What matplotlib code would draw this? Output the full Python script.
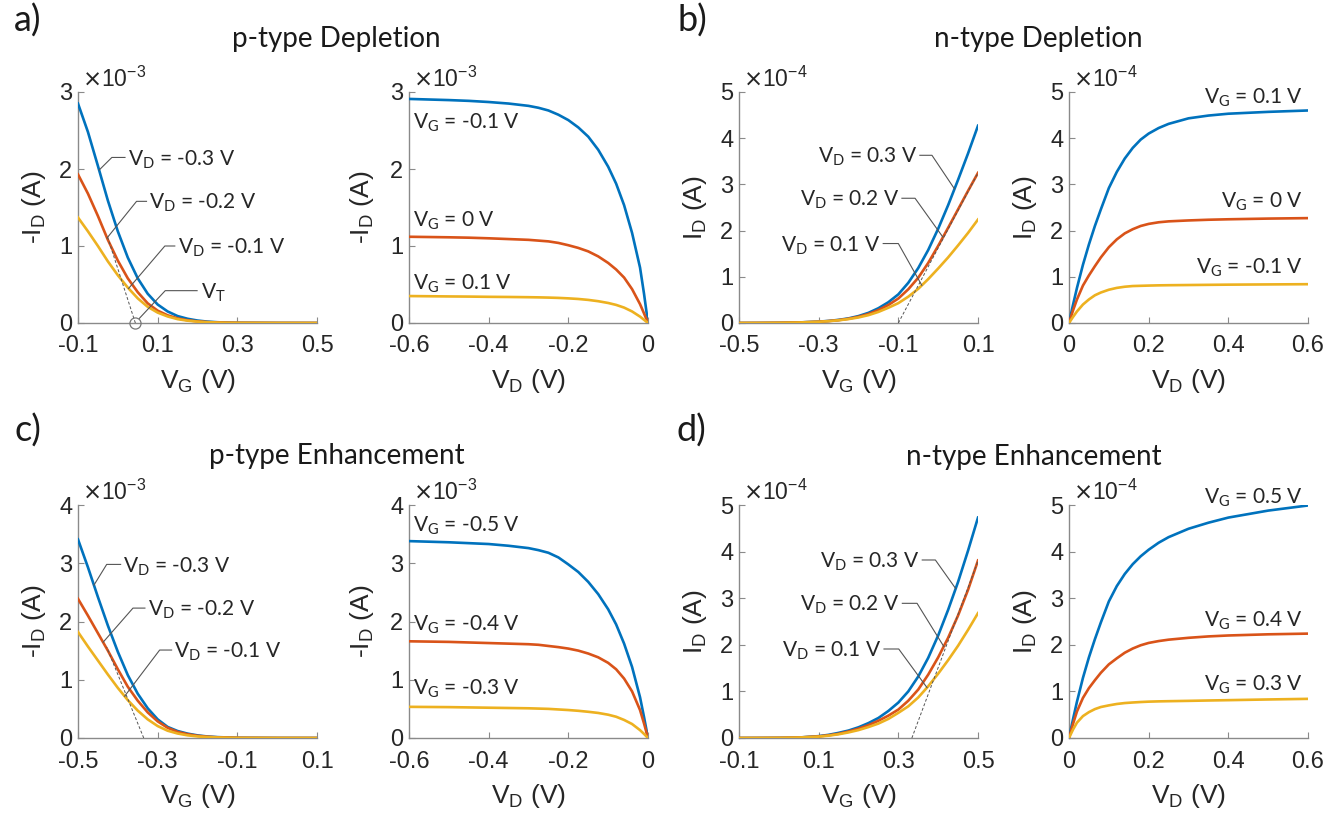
import numpy as np
import matplotlib
matplotlib.use("Agg")
import matplotlib.pyplot as plt

plt.rcParams['axes.unicode_minus'] = False
plt.rcParams['font.family'] = ['Liberation Sans', 'DejaVu Sans']

BLUE, RED, YEL = '#0072BD', '#D95319', '#EDB120'
GREY = '#8a8a8a'
LEAD = '#555555'
ANNOT_FONT = ['Lato', 'DejaVu Sans']
ANNOT_SIZE = 15
ANNOT_DY = -5.4

# ---------------- data (currents in units of the axis multiplier) ----------------
# a) p-type depletion, transfer (-I_D, x1e-3 A)
a_vg = [-0.1, -0.075, -0.05, -0.025, 0.0, 0.025, 0.05, 0.075, 0.1, 0.125, 0.15, 0.175, 0.2, 0.225,
        0.25, 0.275, 0.3, 0.4, 0.5]
a_tr_vd3 = [2.85, 2.48, 2.04, 1.59, 1.19, 0.85, 0.58, 0.38, 0.24, 0.15, 0.09, 0.055, 0.032, 0.018,
            0.01, 0.005, 0.003, 0.0005, 0.0]
a_tr_vd2 = [1.93, 1.68, 1.39, 1.08, 0.81, 0.58, 0.40, 0.255, 0.16, 0.10, 0.06, 0.036, 0.021, 0.012,
            0.007, 0.004, 0.002, 0.0003, 0.0]
a_tr_vd1 = [1.37, 1.19, 1.00, 0.80, 0.62, 0.46, 0.32, 0.21, 0.135, 0.085, 0.05, 0.03, 0.018, 0.01,
            0.006, 0.003, 0.002, 0.0003, 0.0]
# a) output
a_vd = [-0.6, -0.5, -0.45, -0.4, -0.35, -0.3, -0.275, -0.25, -0.225, -0.2, -0.175, -0.15, -0.125,
        -0.1, -0.08, -0.06, -0.04, -0.02, -0.01, 0.0]
a_out_vg1 = [2.91, 2.895, 2.885, 2.87, 2.85, 2.82, 2.795, 2.76, 2.705, 2.635, 2.54, 2.42, 2.25,
             2.03, 1.81, 1.53, 1.17, 0.72, 0.38, 0.0]
a_out_vg2 = [1.12, 1.113, 1.108, 1.10, 1.09, 1.08, 1.07, 1.06, 1.04, 1.01, 0.975, 0.93, 0.865,
             0.78, 0.695, 0.59, 0.44, 0.245, 0.125, 0.0]
a_out_vg3 = [0.35, 0.345, 0.343, 0.34, 0.338, 0.335, 0.333, 0.33, 0.326, 0.32, 0.312, 0.30, 0.283,
             0.26, 0.235, 0.20, 0.15, 0.083, 0.042, 0.0]

# b) n-type depletion, transfer (I_D, x1e-4 A)
b_vg = [-0.5, -0.45, -0.4, -0.35, -0.3, -0.275, -0.25, -0.225, -0.2, -0.175, -0.15, -0.125, -0.1,
        -0.075, -0.05, -0.025, 0.0, 0.025, 0.05, 0.075, 0.1]
b_tr_vd3 = [0.0, 0.001, 0.004, 0.012, 0.03, 0.045, 0.068, 0.10, 0.15, 0.22, 0.32, 0.45, 0.62,
            0.87, 1.19, 1.58, 2.04, 2.55, 3.10, 3.67, 4.27]
b_tr_vd2 = [0.0, 0.001, 0.004, 0.011, 0.028, 0.042, 0.062, 0.092, 0.135, 0.195, 0.28, 0.39, 0.53,
            0.73, 0.98, 1.30, 1.67, 2.06, 2.46, 2.86, 3.25]
b_tr_vd1 = [0.0, 0.001, 0.004, 0.011, 0.027, 0.04, 0.058, 0.085, 0.12, 0.17, 0.24, 0.33, 0.43,
            0.57, 0.74, 0.95, 1.18, 1.42, 1.68, 1.95, 2.24]
# b) output
b_vd = [0.0, 0.01, 0.02, 0.035, 0.05, 0.065, 0.08, 0.1, 0.12, 0.14, 0.16, 0.18, 0.2, 0.225, 0.25,
        0.3, 0.35, 0.4, 0.5, 0.6]
b_out_vg1 = [0.0, 0.39, 0.76, 1.26, 1.70, 2.10, 2.46, 2.92, 3.27, 3.56, 3.79, 3.97, 4.10, 4.22,
             4.31, 4.43, 4.49, 4.53, 4.57, 4.60]
b_out_vg2 = [0.0, 0.27, 0.51, 0.81, 1.03, 1.23, 1.42, 1.64, 1.81, 1.94, 2.03, 2.10, 2.145, 2.18,
             2.20, 2.22, 2.235, 2.245, 2.26, 2.27]
b_out_vg3 = [0.0, 0.13, 0.25, 0.40, 0.51, 0.60, 0.66, 0.72, 0.76, 0.785, 0.80, 0.805, 0.81, 0.815,
             0.818, 0.822, 0.826, 0.83, 0.835, 0.84]

# c) p-type enhancement, transfer (-I_D, x1e-3 A)
c_vg = [-0.5, -0.475, -0.45, -0.425, -0.4, -0.375, -0.35, -0.325, -0.3, -0.275, -0.25, -0.225,
        -0.2, -0.175, -0.15, -0.1, 0.0, 0.1]
c_tr_vd3 = [3.41, 2.93, 2.42, 1.93, 1.48, 1.08, 0.76, 0.51, 0.32, 0.19, 0.12, 0.075, 0.045, 0.026,
            0.015, 0.004, 0.0005, 0.0]
c_tr_vd2 = [2.39, 2.10, 1.80, 1.50, 1.18, 0.88, 0.64, 0.44, 0.285, 0.175, 0.105, 0.065, 0.038,
            0.022, 0.012, 0.003, 0.0004, 0.0]
c_tr_vd1 = [1.82, 1.57, 1.33, 1.09, 0.86, 0.65, 0.47, 0.32, 0.205, 0.125, 0.077, 0.046, 0.027,
            0.016, 0.009, 0.002, 0.0003, 0.0]
# c) output
c_vd = [-0.6, -0.5, -0.45, -0.4, -0.35, -0.3, -0.275, -0.25, -0.225, -0.2, -0.175, -0.15, -0.125,
        -0.1, -0.08, -0.06, -0.04, -0.02, -0.01, 0.0]
c_out_vg1 = [3.38, 3.36, 3.345, 3.33, 3.30, 3.26, 3.225, 3.18, 3.10, 2.98, 2.85, 2.68, 2.47,
             2.21, 1.95, 1.62, 1.22, 0.70, 0.36, 0.0]
c_out_vg2 = [1.66, 1.65, 1.64, 1.63, 1.62, 1.61, 1.60, 1.58, 1.56, 1.535, 1.50, 1.45, 1.385,
             1.29, 1.18, 1.02, 0.80, 0.48, 0.25, 0.0]
c_out_vg3 = [0.535, 0.53, 0.525, 0.52, 0.515, 0.51, 0.505, 0.50, 0.49, 0.48, 0.467, 0.45, 0.43,
             0.40, 0.365, 0.31, 0.24, 0.135, 0.07, 0.0]

# d) n-type enhancement, transfer (I_D, x1e-4 A)
d_vg = [-0.1, -0.05, 0.0, 0.05, 0.1, 0.125, 0.15, 0.175, 0.2, 0.225, 0.25, 0.275, 0.3, 0.325, 0.35,
        0.375, 0.4, 0.425, 0.45, 0.475, 0.5]
d_tr_vd3 = [0.0, 0.001, 0.003, 0.01, 0.04, 0.068, 0.11, 0.16, 0.23, 0.32, 0.43, 0.58, 0.76, 1.00,
            1.32, 1.72, 2.20, 2.75, 3.35, 4.02, 4.73]
d_tr_vd2 = [0.0, 0.001, 0.003, 0.01, 0.035, 0.058, 0.09, 0.14, 0.20, 0.275, 0.37, 0.48, 0.61, 0.80,
            1.04, 1.36, 1.73, 2.15, 2.63, 3.18, 3.81]
d_tr_vd1 = [0.0, 0.001, 0.003, 0.01, 0.03, 0.05, 0.08, 0.12, 0.17, 0.235, 0.31, 0.41, 0.54, 0.68,
            0.87, 1.11, 1.38, 1.67, 1.98, 2.32, 2.68]
# d) output
d_vd = [0.0, 0.01, 0.02, 0.035, 0.05, 0.065, 0.08, 0.1, 0.12, 0.14, 0.16, 0.18, 0.2, 0.225, 0.25,
        0.3, 0.35, 0.4, 0.5, 0.6]
d_out_vg1 = [0.0, 0.40, 0.78, 1.29, 1.73, 2.12, 2.48, 2.93, 3.26, 3.52, 3.73, 3.90, 4.04, 4.19,
             4.31, 4.49, 4.62, 4.73, 4.88, 4.99]
d_out_vg2 = [0.0, 0.30, 0.57, 0.86, 1.07, 1.24, 1.40, 1.58, 1.71, 1.83, 1.92, 1.99, 2.04, 2.08,
             2.11, 2.15, 2.18, 2.20, 2.225, 2.24]
d_out_vg3 = [0.0, 0.18, 0.33, 0.47, 0.555, 0.62, 0.665, 0.70, 0.73, 0.75, 0.762, 0.772, 0.78,
             0.786, 0.79, 0.797, 0.805, 0.812, 0.827, 0.84]

# threshold-extraction tangents (x pair, y pair)
a_tan_x, a_tan_y = [0.044, -0.026], [0.0, 1.12]
b_tan_x, b_tan_y = [-0.1, 0.1], [0.0, 3.25]
c_tan_x, c_tan_y = [-0.335, -0.428], [0.0, 1.56]
d_tan_x, d_tan_y = [0.334, 0.5], [0.0, 3.8]
a_vt = 0.044

# texts
a_tr_labels = ['V$_\\mathregular{D}$ = -0.3 V', 'V$_\\mathregular{D}$ = -0.2 V', 'V$_\\mathregular{D}$ = -0.1 V']
b_tr_labels = ['V$_\\mathregular{D}$ = 0.3 V', 'V$_\\mathregular{D}$ = 0.2 V', 'V$_\\mathregular{D}$ = 0.1 V']
a_out_labels = ['V$_\\mathregular{G}$ = -0.1 V', 'V$_\\mathregular{G}$ = 0 V', 'V$_\\mathregular{G}$ = 0.1 V']
b_out_labels = ['V$_\\mathregular{G}$ = 0.1 V', 'V$_\\mathregular{G}$ = 0 V', 'V$_\\mathregular{G}$ = -0.1 V']
c_out_labels = ['V$_\\mathregular{G}$ = -0.5 V', 'V$_\\mathregular{G}$ = -0.4 V', 'V$_\\mathregular{G}$ = -0.3 V']
d_out_labels = ['V$_\\mathregular{G}$ = 0.5 V', 'V$_\\mathregular{G}$ = 0.4 V', 'V$_\\mathregular{G}$ = 0.3 V']

# ---------------- figure ----------------
W, H = 1326, 815
fig = plt.figure(figsize=(W / 100, H / 100), dpi=100)

col_left = [78, 409, 739, 1069]
ax_w = 239
rows = [(92, 323), (505, 738)]


def make_ax(col, row):
    top, bot = rows[row]
    return fig.add_axes([col_left[col] / W, 1 - bot / H, ax_w / W, (bot - top) / H])


def style(ax, xlim, xticks, xtl, ylim, yticks, ytl, ylabel, xlabel, mult):
    ax.set_xlim(*xlim)
    ax.set_ylim(*ylim)
    ax.set_xticks(xticks)
    ax.set_xticklabels(xtl)
    ax.set_yticks(yticks)
    ax.set_yticklabels(ytl)
    for s in ['top', 'right']:
        ax.spines[s].set_visible(False)
    for s in ['left', 'bottom']:
        ax.spines[s].set_color(GREY)
        ax.spines[s].set_linewidth(1.0)
    ax.tick_params(axis='both', direction='in', length=4, width=0.8, color=GREY,
                   labelsize=17, labelcolor='#262626')
    ax.tick_params(axis='x', pad=9)
    ax.tick_params(axis='y', pad=4)
    ax.set_ylabel(ylabel, fontsize=19, color='#262626')
    ax.yaxis.set_label_coords(-0.125, 0.5)
    ax.set_xlabel(xlabel, fontsize=19, color='#262626', va='top')
    ax.xaxis.set_label_coords(0.5, -0.19)
    ax.annotate(mult, xy=(0, 1), xycoords='axes fraction', xytext=(3, 3.5),
                textcoords='offset points', fontsize=16.5, color='#262626',
                ha='left', va='baseline')


def curves(ax, x, ys):
    for y, c in zip(ys, [BLUE, RED, YEL]):
        ax.plot(x, y, color=c, lw=1.9, solid_joinstyle='round', zorder=3)


def leader(ax, xs, ys_curve, x_curve, bend, end, text, ha):
    yc = float(np.interp(x_curve, xs, ys_curve))
    ax.plot([x_curve, bend[0], end], [yc, bend[1], bend[1]], color=LEAD, lw=0.8, zorder=4)
    dx = 2 if ha == 'left' else -2
    ax.annotate(text, xy=(end, bend[1]), xytext=(dx, ANNOT_DY), textcoords='offset points',
                ha=ha, va='baseline', fontsize=ANNOT_SIZE, family=ANNOT_FONT, color='#262626')


def out_label(ax, x, y, text, ha):
    ax.annotate(text, xy=(x, y), xytext=(0, ANNOT_DY), textcoords='offset points',
                ha=ha, va='baseline', fontsize=ANNOT_SIZE, family=ANNOT_FONT, color='#262626',
                annotation_clip=False)


m3 = r'$\times\mathregular{10^{-3}}$'
m4 = r'$\times\mathregular{10^{-4}}$'
lab_pI = '-I$_\\mathregular{D}$ (A)'
lab_I = 'I$_\\mathregular{D}$ (A)'
lab_VG = 'V$_\\mathregular{G}$ (V)'
lab_VD = 'V$_\\mathregular{D}$ (V)'

# ---- a left
ax = make_ax(0, 0)
curves(ax, a_vg, [a_tr_vd3, a_tr_vd2, a_tr_vd1])
ax.plot(a_tan_x, a_tan_y, color=LEAD, lw=0.7, ls=(0, (3, 2)), zorder=4)
ax.plot([a_vt], [0], 'o', ms=8, mfc='none', mec='#777777', mew=0.9, clip_on=False, zorder=5)
style(ax, (-0.1, 0.5), [-0.1, 0.1, 0.3, 0.5], ['-0.1', '0.1', '0.3', '0.5'],
      (0, 3), [0, 1, 2, 3], ['0', '1', '2', '3'], lab_pI, lab_VG, m3)
leader(ax, a_vg, a_tr_vd3, -0.047, (-0.015, 2.15), 0.018, a_tr_labels[0], 'left')
leader(ax, a_vg, a_tr_vd2, -0.027, (0.047, 1.58), 0.072, a_tr_labels[1], 'left')
leader(ax, a_vg, a_tr_vd1, 0.027, (0.118, 1.0), 0.143, a_tr_labels[2], 'left')
ax.plot([a_vt + 0.01, 0.119, 0.199], [0.06, 0.42, 0.42], color=LEAD, lw=0.8, zorder=4)
ax.annotate('V$_\\mathregular{T}$', xy=(0.199, 0.42), xytext=(3, ANNOT_DY), textcoords='offset points',
            ha='left', va='baseline', fontsize=ANNOT_SIZE, family=ANNOT_FONT, color='#262626')

# ---- a right
ax = make_ax(1, 0)
curves(ax, a_vd, [a_out_vg1, a_out_vg2, a_out_vg3])
style(ax, (-0.6, 0), [-0.6, -0.4, -0.2, 0], ['-0.6', '-0.4', '-0.2', '0'],
      (0, 3), [0, 1, 2, 3], ['0', '1', '2', '3'], lab_pI, lab_VD, m3)
ax.yaxis.set_label_coords(-0.14, 0.5)
for y, t in zip([2.62, 1.35, 0.535], a_out_labels):
    out_label(ax, -0.589, y, t, 'left')

# ---- b left
ax = make_ax(2, 0)
curves(ax, b_vg, [b_tr_vd3, b_tr_vd2, b_tr_vd1])
ax.plot(b_tan_x, b_tan_y, color=LEAD, lw=0.7, ls=(0, (3, 2)), zorder=4)
style(ax, (-0.5, 0.1), [-0.5, -0.3, -0.1, 0.1], ['-0.5', '-0.3', '-0.1', '0.1'],
      (0, 5), [0, 1, 2, 3, 4, 5], ['0', '1', '2', '3', '4', '5'], lab_I, lab_VG, m4)
leader(ax, b_vg, b_tr_vd3, 0.041, (-0.0156, 3.63), -0.046, b_tr_labels[0], 'right')
leader(ax, b_vg, b_tr_vd2, 0.012, (-0.058, 2.70), -0.091, b_tr_labels[1], 'right')
leader(ax, b_vg, b_tr_vd1, -0.041, (-0.100, 1.72), -0.138, b_tr_labels[2], 'right')

# ---- b right
ax = make_ax(3, 0)
curves(ax, b_vd, [b_out_vg1, b_out_vg2, b_out_vg3])
style(ax, (0, 0.6), [0, 0.2, 0.4, 0.6], ['0', '0.2', '0.4', '0.6'],
      (0, 5), [0, 1, 2, 3, 4, 5], ['0', '1', '2', '3', '4', '5'], lab_I, lab_VD, m4)
for y, t in zip([4.91, 2.67, 1.23], b_out_labels):
    out_label(ax, 0.587, y, t, 'right')

# ---- c left
ax = make_ax(0, 1)
curves(ax, c_vg, [c_tr_vd3, c_tr_vd2, c_tr_vd1])
ax.plot(c_tan_x, c_tan_y, color=LEAD, lw=0.7, ls=(0, (3, 2)), zorder=4)
style(ax, (-0.5, 0.1), [-0.5, -0.3, -0.1, 0.1], ['-0.5', '-0.3', '-0.1', '0.1'],
      (0, 4), [0, 1, 2, 3, 4], ['0', '1', '2', '3', '4'], lab_pI, lab_VG, m3)
leader(ax, c_vg, c_tr_vd3, -0.46, (-0.428, 2.98), -0.393, a_tr_labels[0], 'left')
leader(ax, c_vg, c_tr_vd2, -0.437, (-0.362, 2.23), -0.332, a_tr_labels[1], 'left')
leader(ax, c_vg, c_tr_vd1, -0.383, (-0.295, 1.51), -0.265, a_tr_labels[2], 'left')

# ---- c right
ax = make_ax(1, 1)
curves(ax, c_vd, [c_out_vg1, c_out_vg2, c_out_vg3])
style(ax, (-0.6, 0), [-0.6, -0.4, -0.2, 0], ['-0.6', '-0.4', '-0.2', '0'],
      (0, 4), [0, 1, 2, 3, 4], ['0', '1', '2', '3', '4'], lab_pI, lab_VD, m3)
ax.yaxis.set_label_coords(-0.14, 0.5)
for y, t in zip([3.67, 1.97, 0.87], c_out_labels):
    out_label(ax, -0.589, y, t, 'left')

# ---- d left
ax = make_ax(2, 1)
curves(ax, d_vg, [d_tr_vd3, d_tr_vd2, d_tr_vd1])
ax.plot(d_tan_x, d_tan_y, color=LEAD, lw=0.7, ls=(0, (3, 2)), zorder=4)
style(ax, (-0.1, 0.5), [-0.1, 0.1, 0.3, 0.5], ['-0.1', '0.1', '0.3', '0.5'],
      (0, 5), [0, 1, 2, 3, 4, 5], ['0', '1', '2', '3', '4', '5'], lab_I, lab_VG, m4)
leader(ax, d_vg, d_tr_vd3, 0.444, (0.393, 3.82), 0.36, b_tr_labels[0], 'right')
leader(ax, d_vg, d_tr_vd2, 0.414, (0.347, 2.89), 0.31, b_tr_labels[1], 'right')
leader(ax, d_vg, d_tr_vd1, 0.372, (0.301, 1.91), 0.264, b_tr_labels[2], 'right')

# ---- d right
ax = make_ax(3, 1)
curves(ax, d_vd, [d_out_vg1, d_out_vg2, d_out_vg3])
style(ax, (0, 0.6), [0, 0.2, 0.4, 0.6], ['0', '0.2', '0.4', '0.6'],
      (0, 5), [0, 1, 2, 3, 4, 5], ['0', '1', '2', '3', '4', '5'], lab_I, lab_VD, m4)
for y, t in zip([5.2, 2.56, 1.19], d_out_labels):
    out_label(ax, 0.587, y, t, 'right')

# ---- panel labels and titles
for (x, yb, t) in [(14, 32, 'a)'), (677, 32, 'b)'), (14, 442, 'c)'), (677, 442, 'd)')]:
    fig.text(x / W, 1 - yb / H, t, fontsize=26, family=ANNOT_FONT, color='#1a1a1a',
             ha='left', va='baseline')
for (x, yb, t) in [(336, 47, 'p-type Depletion'), (1038, 47, 'n-type Depletion'),
                   (337, 464, 'p-type Enhancement'), (1034, 465, 'n-type Enhancement')]:
    fig.text(x / W, 1 - yb / H, t, fontsize=20, family=ANNOT_FONT, color='#1a1a1a',
             ha='center', va='baseline')

fig.savefig('out.png', dpi=100)
